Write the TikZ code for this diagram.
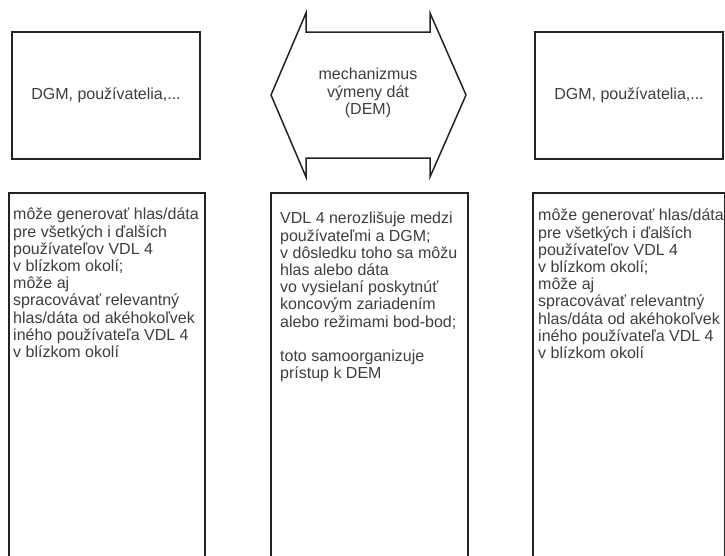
\documentclass[tikz,border=0pt]{standalone}
\usepackage{fontspec}
\setmainfont{Liberation Sans}
\usetikzlibrary{positioning}
\definecolor{boxline}{RGB}{35,35,35}
\definecolor{inkgrey}{RGB}{62,62,62}

\begin{document}
\begin{tikzpicture}[
    x=1pt, y=-1pt,
    font=\fontsize{16}{17.2}\selectfont,
    every node/.style={text=inkgrey},
    topbox/.style={draw=boxline, line width=1.5pt, minimum width=188pt, minimum height=127pt, inner sep=0pt},
    colbox/.style={draw=boxline, line width=1.5pt, minimum height=380pt, inner sep=0pt, anchor=north west},
    coltext/.style={align=left, inner sep=0pt},
]
\clip (0,0) rectangle (725,555);

% ------------------------------------------------------------ top row ---
\node[topbox] (dgmL) at (106,95.5) {DGM, používatelia,...};
\node[topbox] (dgmR) at (629,95.5) {DGM, používatelia,...};

% ------------------------------------------------- exchange (double arrow) ---
\draw[boxline, line width=1.5pt] (306,13) -- (306,32) -- (430,32) -- (430,13) -- (466,95)
  -- (430,177) -- (430,158) -- (306,158) -- (306,177) -- (271,95) -- cycle;
\node[align=center, inner sep=0pt] (dem) at (368,93) {mechanizmus\\výmeny dát\\(DEM)};

% --------------------------------------------------------- columns ---
\node[colbox, minimum width=196pt] (colL) at (8,192) {};
\node[colbox, minimum width=197pt] (colM) at (270,192) {};
\node[colbox, minimum width=192pt] (colR) at (532,192) {};

\node[coltext, below right=16pt and 5pt of colL.north west] (txtL)
  {môže generovať hlas/dáta\\pre všetkých i ďalších\\používateľov VDL 4\\v blízkom okolí;\\môže aj\\spracovávať relevantný\\hlas/dáta od akéhokoľvek\\iného používateľa VDL 4\\v blízkom okolí};
\node[coltext, below right=20pt and 10pt of colM.north west] (txtM)
  {VDL 4 nerozlišuje medzi\\používateľmi a DGM;\\v dôsledku toho sa môžu\\hlas alebo dáta\\vo vysielaní poskytnúť\\koncovým zariadením\\alebo režimami bod-bod;\\[17.2pt]toto samoorganizuje\\prístup k DEM};
\node[coltext, below right=17pt and 6pt of colR.north west] (txtR)
  {môže generovať hlas/dáta\\pre všetkých i ďalších\\používateľov VDL 4\\v blízkom okolí;\\môže aj\\spracovávať relevantný\\hlas/dáta od akéhokoľvek\\iného používateľa VDL 4\\v blízkom okolí};

\end{tikzpicture}
\end{document}
